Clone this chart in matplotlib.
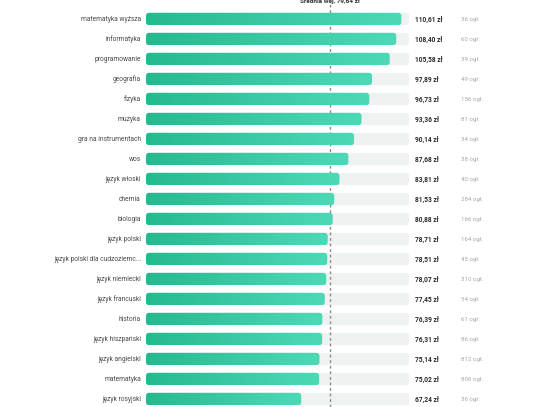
import numpy as np
import matplotlib
matplotlib.use("Agg")
import matplotlib.pyplot as plt
from matplotlib.patches import FancyBboxPatch

# ------------------ DANE ------------------
subjects = [
    "matematyka wyższa", "informatyka", "programowanie", "geografia", "fizyka",
    "muzyka", "gra na instrumentach", "wos", "język włoski", "chemia",
    "biologia", "język polski", "język polski dla cudzoziemc...", "język niemiecki",
    "język francuski", "historia", "język hiszpański", "język angielski",
    "matematyka", "język rosyjski",
]
prices = [110.61, 108.40, 105.58, 97.89, 96.73, 93.36, 90.14, 87.68, 83.81, 81.53,
          80.88, 78.71, 78.51, 78.07, 77.45, 76.39, 76.31, 75.14, 75.02, 67.24]
counts = [36, 60, 39, 49, 156, 81, 34, 38, 40, 284,
          166, 164, 45, 310, 54, 61, 86, 812, 806, 36]
avg_price = 79.64

# ------------------ STYL ------------------
W, H = 540, 407
x0_px, x1_px = 146, 409        # tor paska w pikselach
row0_px, row_step = 19, 20
xmax = max(prices) * 1.03
bar_h = 0.62
c_left = np.array([0x26, 0xb9, 0x8f]) / 255
c_right = np.array([0x4e, 0xd9, 0xb6]) / 255
track_col = "#eef2f0"

plt.rcParams['font.family'] = ['Roboto', 'DejaVu Sans']

fig = plt.figure(figsize=(W / 100, H / 100), dpi=100)
ax = fig.add_axes([x0_px / W, 0, (x1_px - x0_px) / W, 1])
ax.set_xlim(0, xmax)
ax.set_ylim((H - row0_px) / row_step, -row0_px / row_step)
ax.axis("off")

# linia średniej (pod paskami)
ax.axvline(avg_price, color="#8a8a8a", lw=1.0, ls=(0, (2, 2)), zorder=1)
ax.text(avg_price, -0.8, f"Średnia woj. {avg_price:.2f} zł".replace(".", ","),
        ha="center", va="baseline", fontsize=4.6, fontweight="bold", color="#333333",
        clip_on=False)

grad = np.linspace(0, 1, 256)
grad_img = (c_left[None, :] * (1 - grad[:, None]) + c_right[None, :] * grad[:, None])[None, :, :]

px_per_unit = (x1_px - x0_px) / xmax
rad_x = 3 / px_per_unit               # promień 3 px w jednostkach x
aspect = (1 / row_step) / (1 / px_per_unit)
base_off = 0.12                        # linia bazowa tekstu pod środkiem paska

for i, (name, val, n) in enumerate(zip(subjects, prices, counts)):
    y = i
    track = FancyBboxPatch((0, y - bar_h / 2), xmax, bar_h,
                           boxstyle=f"round,pad=0,rounding_size={rad_x}",
                           mutation_aspect=aspect,
                           fc=track_col, ec="none", zorder=0.5)
    ax.add_patch(track)
    bar = FancyBboxPatch((0, y - bar_h / 2), val, bar_h,
                         boxstyle=f"round,pad=0,rounding_size={rad_x}",
                         mutation_aspect=aspect,
                         fc="none", ec="none", zorder=2)
    ax.add_patch(bar)
    im = ax.imshow(grad_img, extent=(0, val, y + bar_h / 2, y - bar_h / 2),
                   aspect="auto", zorder=2, interpolation="bilinear")
    im.set_clip_path(bar)

    ax.text(-2.2, y + base_off, name, ha="right", va="baseline", fontsize=4.8,
            color="#4a4a4a", clip_on=False)
    ax.text(xmax + 2.5, y + base_off, f"{val:.2f} zł".replace(".", ","), ha="left",
            va="baseline", fontsize=4.8, fontweight="bold", color="#2a2a2a", clip_on=False)
    ax.text(xmax + 22.5, y + base_off, f"{n} ogł.", ha="left", va="baseline",
            fontsize=4.4, color="#a8a8a8", clip_on=False)

ax.set_xlim(0, xmax)
ax.set_ylim((H - row0_px) / row_step, -row0_px / row_step)
fig.savefig("out.png", dpi=100, facecolor="white")
